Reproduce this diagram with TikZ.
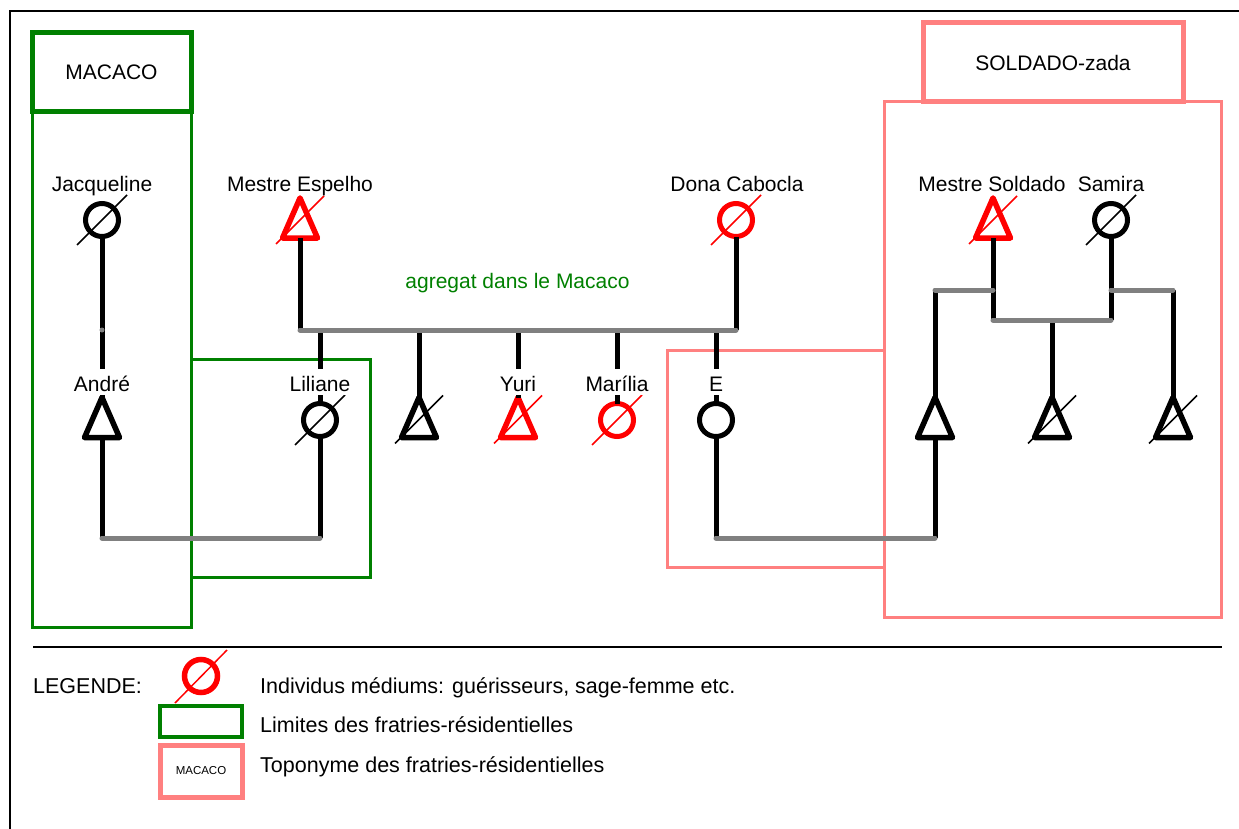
\documentclass[tikz,border=0pt]{standalone}
\usepackage{fontspec}
\setmainfont{Liberation Sans}
\usetikzlibrary{shapes.geometric, calc}
\definecolor{kinRed}{HTML}{FF0000}
\definecolor{kinGreen}{HTML}{008000}
\definecolor{kinPink}{HTML}{FF8080}
\definecolor{kinGray}{HTML}{808080}
\tikzset{
  person/.style={draw, line width=5pt, inner sep=0pt, outer sep=0pt},
  female/.style={person, circle, minimum size=33pt},
  male/.style={person, isosceles triangle, isosceles triangle stretches,
    shape border rotate=90, minimum width=35pt, minimum height=40pt, line join=round, line width=5.5pt},
  medium/.style={draw=kinRed},
  descent/.style={line width=5pt, black},
  union/.style={line width=5pt, kinGray, line cap=round},
  slash/.style={line width=1.5pt},
  lbl/.style={font=\fontsize{21}{25}\selectfont, inner sep=0pt},
  gap/.style={lbl, fill=white, text height=20pt, text depth=2pt, inner ysep=2pt},
  fratrie/.style={draw=kinGreen, line width=3pt},
  fratrietag/.style={draw=kinGreen, line width=5pt, lbl},
  topo/.style={draw=kinPink, line width=3pt},
  topotag/.style={draw=kinPink, line width=5pt, lbl},
  legtext/.style={lbl, font=\fontsize{21.5}{25}\selectfont, anchor=base west}
}
\begin{document}
\begin{tikzpicture}[x=1pt, y=-1pt]
  \useasboundingbox (0,0) rectangle (1239,829);
  % frame and legend rule
  \draw[line width=2pt] (10,829) -- (10,11) -- (1239,11);
  \draw[line width=2pt] (33,647) -- (1222,647);

  % fratries
  \draw[fratrie] (32,112) rectangle (191,627);
  \draw[fratrie] (191,359) rectangle (370,577);
  \draw[topo] (884,102) rectangle (1221,617);
  \draw[topo] (667,350) rectangle (884,567);
  \node[fratrietag, minimum width=159pt, minimum height=79pt] (macaco) at (111.5,72.5) {MACACO};
  \node[topotag, minimum width=260pt, minimum height=79pt] (soldado) at (1053,62.5) {SOLDADO-zada};

  % persons
  \node[female] (jac) at (102,220) {};
  \node[male, medium, anchor=apex] (esp) at (300,198) {};
  \node[female, medium] (cab) at (736,220) {};
  \node[male, medium, anchor=apex] (sol) at (993,198) {};
  \node[female] (sam) at (1111,220) {};
  \node[male, anchor=apex] (andre) at (102,397.5) {};
  \node[female] (lil) at (320,420) {};
  \node[male, anchor=apex] (b1) at (419,397.5) {};
  \node[male, medium, anchor=apex] (yuri) at (518,397.5) {};
  \node[female, medium] (mar) at (617,420) {};
  \node[female] (E) at (716,420) {};
  \node[male, anchor=apex] (r1) at (935,397.5) {};
  \node[male, anchor=apex] (r2) at (1052,397.5) {};
  \node[male, anchor=apex] (r3) at (1173,397.5) {};

  % bars
  \coordinate (sib) at (518,330);
  \coordinate (low) at (518,538);
  \coordinate (rb) at (1052,320);
  \coordinate (ru) at (1052,290);

  % descent lines
  \draw[descent] (jac.south) -- (andre.apex);
  \draw[descent] (esp.lower side) -- (esp.lower side |- sib);
  \draw[descent] (cab.south) -- (cab.south |- sib);
  \foreach \c in {lil, b1, yuri, mar, E}{\draw[descent] (\c.north) -- (\c.north |- sib);}
  \draw[descent] (andre.lower side) -- (andre.lower side |- low);
  \draw[descent] (lil.south) -- (lil.south |- low);
  \draw[descent] (E.south) -- (E.south |- low);
  \draw[descent] (r1.lower side) -- (r1.lower side |- low);
  \draw[descent] (sol.lower side) -- (sol.lower side |- rb);
  \draw[descent] (sam.south) -- (sam.south |- rb);
  \draw[descent] (r2.apex) -- (r2.apex |- rb);
  \draw[descent] (r1.apex) -- (r1.apex |- ru);
  \draw[descent] (r3.apex) -- (r3.apex |- ru);

  % unions
  \draw[union] (esp.lower side |- sib) -- (cab.south |- sib);
  \draw[union] (andre.lower side |- low) -- (lil.south |- low);
  \draw[union] (E.south |- low) -- (r1.lower side |- low);
  \draw[union] (sol.lower side |- rb) -- (sam.south |- rb);
  \draw[union] (r1.apex |- ru) -- (sol.lower side |- ru);
  \draw[union] (sam.south |- ru) -- (r3.apex |- ru);
  \fill[kinGray] (jac.south |- sib) circle (2.5pt);

  % deceased
  \foreach \p/\c in {jac/black, lil/black, sam/black, cab/kinRed, mar/kinRed}
    {\draw[slash, \c] ($(\p.center)+(-25,25)$) -- ($(\p.center)+(25,-25)$);}
  \foreach \p/\c in {esp/kinRed, sol/kinRed, yuri/kinRed, b1/black, r2/black, r3/black}{
    \coordinate (\p c) at ($(\p.apex)!.55!(\p.lower side)$);
    \draw[slash, \c] ($(\p c)+(-24,24)$) -- ($(\p c)+(24,-24)$);}

  % names
  \node[lbl, anchor=base] (jacL) at (102,192) {Jacqueline};
  \node[lbl, anchor=base] (espL) at (300,192) {Mestre Espelho};
  \node[lbl, anchor=base] (cabL) at (737,192) {Dona Cabocla};
  \node[lbl, anchor=base] (solL) at (992,192) {Mestre Soldado};
  \node[lbl, anchor=base] (samL) at (1111,192) {Samira};
  \node[gap, anchor=base] (andreL) at (102,391) {André};
  \node[gap, anchor=base] (lilL) at (320,391) {Liliane};
  \node[gap, anchor=base] (yuriL) at (518,391) {Yuri};
  \node[gap, anchor=base] (marL) at (617,391) {Marília};
  \node[gap, anchor=base] (EL) at (716,391) {E};
  \node[lbl, anchor=base, text=kinGreen] (agr) at (517.5,288) {agregat dans le Macaco};

  % legend
  \node[legtext] (legL) at (33,693) {LEGENDE:};
  \node[female, medium, line width=5.5pt] (leg) at (201,676) {};
  \draw[slash, kinRed] ($(leg.center)+(-26,27)$) -- ($(leg.center)+(26,-26)$);
  \node[draw=kinGreen, line width=4pt, minimum width=82pt, minimum height=31pt] (legF) at (201,721.5) {};
  \node[topotag, minimum width=82pt, minimum height=52pt, font=\fontsize{11.5}{13}\selectfont] (legT) at (201,771) {MACACO};
  \node[legtext] (legA) at (260,693) {Individus médiums: guérisseurs, sage-femme etc.};
  \node[legtext] (legB) at (260,732) {Limites des fratries-résidentielles};
  \node[legtext] (legC) at (260,772) {Toponyme des fratries-résidentielles};
\end{tikzpicture}
\end{document}
